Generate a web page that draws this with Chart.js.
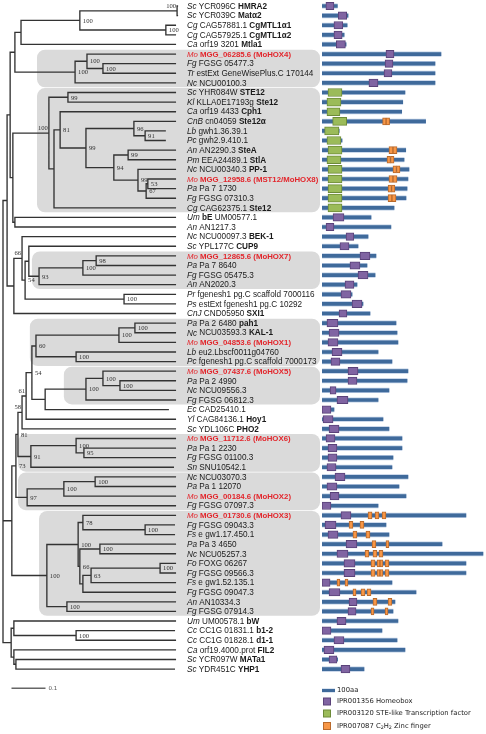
<!DOCTYPE html>
<html>
<head>
<meta charset="utf-8">
<script src="https://cdn.jsdelivr.net/npm/chart.js@4.4.1/dist/chart.umd.min.js"></script>
<style>
  html, body { margin: 0; padding: 0; background: #fff; }
  #wrap { position: relative; width: 486px; height: 734px; overflow: hidden; }
  #treeChart { position: absolute; left: 0; top: 0; }
  #domainChart { position: absolute; left: 322px; top: 0; }
</style>
</head>
<body>
<div id="wrap">
  <canvas id="treeChart" width="486" height="734"></canvas>
  <canvas id="domainChart" width="164" height="734"></canvas>
</div>
<script>
// leaf labels, top to bottom (*italic*, **bold**)
const leafLabels = [
  '*Sc* YCR096C **HMRA2**', '*Sc* YCR039C **Matα2**', '*Cg* CAG57881.1 **CgMTL1α1**',
  '*Cg* CAG57925.1 **CgMTL1α2**', '*Ca* orf19 3201 **Mtla1**',
  '*Mo* **MGG_06285.6 (MoHOX4)**', '*Fg* FGSG 05477.3', '*Tr* estExt GeneWisePlus.C 170144',
  '*Nc* NCU00100.3',
  '*Sc* YHR084W **STE12**', '*Kl* KLLA0E17193g **Ste12**', '*Ca* orf19 4433 **Cph1**',
  '*CnB* cn04059 **Ste12α**', '*Lb* gwh1.36.39.1', '*Pc* gwh2.9.410.1', '*An* AN2290.3 **SteA**',
  '*Pm* EEA24489.1 **StlA**', '*Nc* NCU00340.3 **PP-1**', '*Mo* **MGG_12958.6 (MST12/MoHOX8)**',
  '*Pa* Pa 7 1730', '*Fg* FGSG 07310.3', '*Cg* CAG62375.1 **Ste12**',
  '*Um* **bE** UM00577.1', '*An* AN1217.3', '*Nc* NCU00097.3 **BEK-1**', '*Sc* YPL177C **CUP9**',
  '*Mo* **MGG_12865.6 (MoHOX7)**', '*Pa* Pa 7 8640', '*Fg* FGSG 05475.3', '*An* AN2020.3',
  '*Pr* fgenesh1 pg.C scaffold 7000116', '*Ps* estExt fgenesh1 pg.C 10292', '*CnJ* CND05950 **SXI1**',
  '*Pa* Pa 2 6480 **pah1**', '*Nc* NCU03593.3 **KAL-1**', '*Mo* **MGG_04853.6 (MoHOX1)**',
  '*Lb* eu2.Lbscf0011g04760', '*Pc* fgenesh1 pg.C scaffold 7000173',
  '*Mo* **MGG_07437.6 (MoHOX5)**', '*Pa* Pa 2 4990', '*Nc* NCU09556.3', '*Fg* FGSG 06812.3',
  '*Ec* CAD25410.1', '*Yl* CAG84136.1 **Hoy1**', '*Sc* YDL106C **PHO2**',
  '*Mo* **MGG_11712.6 (MoHOX6)**', '*Pa* Pa 1 2230', '*Fg* FGSG 01100.3', '*Sn* SNU10542.1',
  '*Nc* NCU03070.3', '*Pa* Pa 1 12070', '*Mo* **MGG_00184.6 (MoHOX2)**', '*Fg* FGSG 07097.3',
  '*Mo* **MGG_01730.6 (MoHOX3)**', '*Fg* FGSG 09043.3', '*Fs* e gw1.17.450.1', '*Pa* Pa 3 4650',
  '*Nc* NCU05257.3', '*Fo* FOXG 06267', '*Fg* FGSG 09566.3', '*Fs* e gw1.52.135.1',
  '*Fg* FGSG 09047.3', '*An* AN10334.3', '*Fg* FGSG 07914.3',
  '*Um* UM00578.1 **bW**', '*Cc* CC1G 01831.1 **b1-2**', '*Cc* CC1G 01828.1 **d1-1**',
  '*Ca* orf19.4000.prot **FIL2**', '*Sc* YCR097W **MATa1**', '*Sc* YDR451C **YHP1**'
];
const magnaporthRows = [5, 18, 26, 35, 38, 45, 51, 53];

// tip depths (substitutions/site from the root)
const leafDepth = [
  0.515, 0.515, 0.509, 0.509, 0.509, 0.509, 0.509, 0.509, 0.509, 0.509,
  0.509, 0.509, 0.509, 0.479, 0.479, 0.509, 0.509, 0.509, 0.509, 0.509,
  0.509, 0.509, 0.509, 0.509, 0.509, 0.509, 0.509, 0.509, 0.509, 0.509,
  0.509, 0.509, 0.509, 0.509, 0.509, 0.509, 0.509, 0.509, 0.509, 0.509,
  0.509, 0.509, 0.488, 0.509, 0.509, 0.509, 0.509, 0.509, 0.503, 0.509,
  0.509, 0.509, 0.509, 0.509, 0.506, 0.506, 0.509, 0.509, 0.509, 0.509,
  0.509, 0.509, 0.509, 0.509, 0.509, 0.506, 0.509, 0.509, 0.509, 0.506
];

// internal nodes, children listed before parents
const cladeNames = ['A','B','C','D','F','E','G','H','I','J','K','L','N1','N2','N3','O','P','Q','S','R',
  'U','T','V','a','b','c','e','d','f','g','h','W','i','j','k','l','m','n','o','p','q','r','s',
  't','u','v','w','x1','x2','x3','y1','aa','bb','cc','dd','ee','ff','gg','hh','ii','jj','z',
  'kk','ll','mm','nn','oo','root'];
const cladeKids = [
  [0,1],[2,3],['A','B'],['C',4],[6,7],[5,'F'],['E',8],['D','G'],[9,10],[13,14],[12,'J'],[15,16],
  [18,19],['N1',20],[17,'N2'],['L','N3'],['K','O'],[11,'P'],['Q',21],['I','S'],
  [22,23],['R','U'],['H','T'],[26,27],['a',28],['b',29],[25,'c'],[30,31],['e','d'],[24,'f'],['g',32],
  ['V','h'],[33,34],['i',35],[36,37],['j','k'],[39,40],[38,'m'],['n',41],['o',42],['l','p'],['q',43],
  ['r',44],[46,47],[45,'t'],['u',48],['s','v'],[49,50],['x1',51],['x2',52],['w','x3'],
  [54,55],[53,'aa'],[56,57],[58,59],['dd',60],['ee',61],['cc','ff'],['bb','gg'],[62,63],['hh','ii'],
  ['y1','jj'],[65,66],[64,'kk'],[68,69],[67,'mm'],['ll','nn'],['W','z','oo']
];
const cladeDepth = [
  0.512,0.479,0.226,0.053,0.294,0.247,0.212,0.035,0.191,0.418,0.385,0.368,
  0.426,0.421,0.397,0.326,0.244,0.168,0.150,0.135,
  0.035,0.029,0.021,0.274,0.235,0.106,0.076,0.356,0.065,0.056,0.032,
  0.012,0.388,0.341,0.215,0.097,0.344,0.294,0.244,0.124,0.085,0.068,
  0.056,0.238,0.215,0.082,0.044,0.271,0.179,0.071,0.038,
  0.418,0.235,0.285,0.462,0.259,0.235,0.226,0.221,0.188,0.129,
  0.026,0.215,0.032,0.038,0.032,0.024,0
];
const cladeSupport = [
  100,100,100,null,100,100,100,null,99,91,96,99,
  53,67,99,94,99,81,null,100,
  null,null,null,98,100,93,null,100,54,66,null,
  null,100,100,100,60,100,100,100,null,54,61,
  58,95,100,91,81,100,100,97,73,
  100,78,100,100,63,null,66,100,100,100,
  null,100,null,null,null,null,null
];
const supportOnLeft = ['A', 'R', 'g', 'r', 's'];

// shaded groups: first row, last row, left edge (depth)
const shadedGroups = [[5, 8, 0.100], [9, 21, 0.100], [26, 29, 0.085], [33, 37, 0.079],
  [38, 41, 0.179], [45, 48, 0.044], [49, 52, 0.044], [53, 63, 0.106]];
const scaleBarStart = 0.025;
const scaleBarLength = 0.1;

// protein lengths (aa) and domains [row, start, end]
const proteinLen = [
  118, 200, 193, 170, 185, 915, 869, 869, 869,
  638, 621, 613, 797, 132, 154, 644, 631, 669, 661, 654, 646, 554,
  377, 530, 354, 277, 415, 346, 408, 269, 231, 315, 369,
  569, 577, 584, 431, 538, 661, 654, 515, 431, 92, 469, 515,
  615, 615, 546, 538, 661, 592, 646, 431,
  1107, 492, 515, 923, 1238, 1107, 1107, 538, 723, 561, 546,
  584, 461, 577, 638, 120, 323
];
const homeobox = [
  [0,30,92],[1,125,190],[2,92,160],[3,92,155],[4,110,180],[5,492,554],[6,485,546],[7,477,538],
  [8,361,431],[22,85,169],[23,31,92],[24,185,245],[25,138,208],[26,292,369],[27,215,292],
  [28,277,354],[29,177,246],[30,146,223],[31,231,308],[32,131,192],[33,38,123],[34,54,131],
  [35,46,123],[36,77,154],[37,69,138],[38,200,277],[39,200,269],[40,62,108],[41,115,200],
  [42,0,69],[43,8,85],[44,54,131],[45,31,100],[46,46,115],[47,46,115],[48,38,108],[49,100,177],
  [50,38,115],[51,62,131],[52,0,69],[53,146,223],[54,23,108],[55,46,123],[56,185,269],
  [57,115,200],[58,169,254],[59,169,254],[60,0,62],[61,54,138],[62,208,269],[63,200,262],
  [64,115,185],[65,0,69],[66,92,169],[67,15,92],[68,54,115],[69,146,215]
];
const steDomain = [
  [9,46,154],[10,38,146],[11,38,138],[12,82,190],[13,20,130],[14,38,146],[15,46,154],
  [16,38,146],[17,46,154],[18,46,154],[19,46,154],[20,46,154],[21,46,154]
];
const zincFinger = [
  [12,466,493],[12,493,520],[15,515,546],[15,546,577],[16,500,527],[16,527,554],
  [17,546,573],[17,573,600],[18,515,546],[18,546,577],[19,508,535],[19,535,561],
  [20,508,538],[20,538,569],
  [53,354,385],[53,408,438],[53,462,492],[54,208,238],[54,292,323],[55,238,269],[55,338,369],
  [56,385,415],[56,492,515],[57,331,361],[57,392,423],[57,438,469],
  [58,377,408],[58,423,446],[58,446,469],[58,485,515],[59,377,408],[59,423,446],[59,446,469],[59,485,515],
  [60,115,138],[60,177,200],[61,238,262],[61,300,331],[61,346,377],[62,392,423],[62,508,538],
  [63,377,400],[63,485,508]
];

// layout
const ROW0 = 6, ROW_H = 9.61, X0 = 3, PX_PER_UNIT = 340;
const LABEL_X = 187, SHADE_RIGHT = 320, PX_PER_100AA = 13;
const FONT = '"Liberation Sans", Arial, sans-serif';

// node positions
const xOf = {}, yOf = {};
const kidX = k => typeof k === 'number' ? leafDepth[k] : xOf[k];
const kidY = k => typeof k === 'number' ? k : yOf[k];
cladeNames.forEach((name, i) => {
  const kids = cladeKids[i];
  xOf[name] = cladeDepth[i];
  yOf[name] = (kidY(kids[0]) + kidY(kids[kids.length - 1])) / 2;
});

const treePoints = [];
cladeNames.forEach((name, i) => {
  const kids = cladeKids[i], x = xOf[name];
  const first = kids[0], last = kids[kids.length - 1];
  treePoints.push({x: kidX(first), y: kidY(first)}, {x: x, y: kidY(first)},
    {x: x, y: kidY(last)}, {x: kidX(last), y: kidY(last)}, {x: null, y: null});
  kids.slice(1, -1).forEach(k => {
    treePoints.push({x: x, y: kidY(k)}, {x: kidX(k), y: kidY(k)}, {x: null, y: null});
  });
});

function drawRich(ctx, text, x, y, red) {
  const parts = text.split(/(\*\*.+?\*\*|\*.+?\*)/).filter(Boolean);
  const size = red ? '7.8px ' : '8.2px ';
  parts.forEach(p => {
    let style = '', t = p;
    if (p.startsWith('**')) { style = 'bold '; t = p.slice(2, -2); }
    else if (p.startsWith('*')) { style = 'italic '; t = p.slice(1, -1); }
    ctx.font = style + size + FONT;
    ctx.fillStyle = red ? '#e3262c' : '#1a1a1a';
    ctx.fillText(t, x, y);
    x += ctx.measureText(t).width;
  });
}

const treeDecor = {
  id: 'treeDecor',
  beforeDatasetsDraw(chart) {
    const {ctx, scales: {x, y}} = chart;
    ctx.save();
    ctx.fillStyle = '#dadada';
    shadedGroups.forEach(([a, b, from]) => {
      const left = x.getPixelForValue(from);
      const top = y.getPixelForValue(a - 0.46);
      const bottom = y.getPixelForValue(b + 0.46);
      ctx.beginPath();
      ctx.roundRect(left, top, SHADE_RIGHT - left, bottom - top, 8);
      ctx.fill();
    });
    ctx.restore();
  },
  afterDatasetsDraw(chart) {
    const {ctx, scales: {x, y}} = chart;
    ctx.save();
    // bootstrap values
    ctx.font = '6.6px "Liberation Serif", "Times New Roman", serif';
    ctx.fillStyle = '#333';
    ctx.textBaseline = 'middle';
    cladeNames.forEach((name, i) => {
      const s = cladeSupport[i];
      if (s == null) return;
      const px = x.getPixelForValue(xOf[name]);
      const py = y.getPixelForValue(yOf[name]);
      if (supportOnLeft.includes(name)) {
        ctx.textAlign = 'right';
        ctx.fillText(String(s), px - 1, py - 5);
      } else {
        ctx.textAlign = 'left';
        ctx.fillText(String(s), px + 3, py + 0.5);
      }
    });
    // leaf labels
    ctx.textAlign = 'left';
    leafLabels.forEach((lab, i) => {
      drawRich(ctx, lab, LABEL_X, y.getPixelForValue(i) + 0.5, magnaporthRows.includes(i));
    });
    // scale bar text
    ctx.font = '5.5px "DejaVu Sans", sans-serif';
    ctx.fillStyle = '#555';
    ctx.fillText(String(scaleBarLength), x.getPixelForValue(scaleBarStart + scaleBarLength) + 3,
      y.getPixelForValue(leafLabels.length + 1));
    ctx.restore();
  }
};

new Chart(document.getElementById('treeChart'), {
  type: 'scatter',
  data: {
    datasets: [
      { data: treePoints, showLine: true, spanGaps: false, borderColor: '#333', borderWidth: 1.35,
        pointRadius: 0, tension: 0 },
      { data: [{x: scaleBarStart, y: leafLabels.length + 1},
               {x: scaleBarStart + scaleBarLength, y: leafLabels.length + 1}],
        showLine: true, borderColor: '#666', borderWidth: 1.6, pointRadius: 0 }
    ]
  },
  options: {
    responsive: false, animation: false, events: [],
    layout: { padding: 0, autoPadding: false },
    plugins: { legend: { display: false }, tooltip: { enabled: false } },
    scales: {
      x: { type: 'linear', display: false, min: -X0 / PX_PER_UNIT, max: (486 - X0) / PX_PER_UNIT },
      y: { type: 'linear', display: false, reverse: true, min: -ROW0 / ROW_H, max: (734 - ROW0) / ROW_H }
    }
  },
  plugins: [treeDecor]
});

// domain panel
const rowKeys = leafLabels.map((_, i) => String(i));
const toBars = list => list.map(d => ({ y: String(d[0]), x: [d[1], d[2]] }));
const colors = {
  hb: ['#8064a2', '#5a4279'], ste: ['#9bbb59', '#6c8a38'], zf: ['#f79646', '#b8692b'],
  prot: '#3f6a9b', halo: '#bccde4'
};

const domainLegend = {
  id: 'domainLegend',
  afterDraw(chart) {
    const {ctx, scales: {x}} = chart;
    const x0 = x.getPixelForValue(0);
    ctx.save();
    ctx.font = '6.8px "DejaVu Sans", sans-serif';
    ctx.textBaseline = 'middle';
    ctx.fillStyle = colors.halo;
    ctx.fillRect(x0, 688.5, x.getPixelForValue(100) - x0, 4);
    ctx.fillStyle = colors.prot;
    ctx.fillRect(x0, 689, x.getPixelForValue(100) - x0, 3);
    ctx.fillStyle = '#222';
    ctx.fillText('100aa', 15, 690.5);
    const items = [['IPR001356 Homeobox', colors.hb, 701.5], ['IPR003120 STE-like Transcription factor', colors.ste, 713.5],
      ['', colors.zf, 726]];
    items.forEach(([t, c, yy]) => {
      ctx.fillStyle = c[1];
      ctx.fillRect(1, yy - 4, 8, 8);
      ctx.fillStyle = c[0];
      ctx.fillRect(2, yy - 3, 6, 6);
      ctx.fillStyle = '#222';
      if (t) ctx.fillText(t, 15, yy);
    });
    // C2H2 with subscripts
    let tx = 15;
    const yz = 726;
    [['IPR007087 C', 0], ['2', 1], ['H', 0], ['2', 1], [' Zinc finger', 0]].forEach(([t, sub]) => {
      ctx.font = (sub ? '4.8px' : '6.8px') + ' "DejaVu Sans", sans-serif';
      ctx.fillText(t, tx, sub ? yz + 2 : yz);
      tx += ctx.measureText(t).width;
    });
    ctx.restore();
  }
};

new Chart(document.getElementById('domainChart'), {
  type: 'bar',
  data: {
    labels: rowKeys,
    datasets: [
      { label: 'IPR003120', data: toBars(steDomain), backgroundColor: colors.ste[0], borderColor: colors.ste[1],
        borderWidth: 1, barThickness: 8, order: 1 },
      { label: 'IPR001356', data: toBars(homeobox), backgroundColor: colors.hb[0], borderColor: colors.hb[1],
        borderWidth: 1, barThickness: 7.5, order: 1 },
      { label: 'IPR007087', data: toBars(zincFinger), backgroundColor: colors.zf[0], borderColor: colors.zf[1],
        borderWidth: 1, barThickness: 7, order: 1 },
      { label: 'protein', data: proteinLen.map((l, i) => ({ y: String(i), x: [0, l] })),
        backgroundColor: colors.prot, borderWidth: 0, barThickness: 3, order: 2 },
      { label: 'halo', data: proteinLen.map((l, i) => ({ y: String(i), x: [0, l] })),
        backgroundColor: colors.halo, borderWidth: 0, barThickness: 4.5, order: 3 }
    ]
  },
  options: {
    indexAxis: 'y', responsive: false, animation: false, events: [],
    layout: { padding: { top: ROW0 - ROW_H / 2, bottom: 734 - (ROW0 - ROW_H / 2) - ROW_H * leafLabels.length, left: 0, right: 0 }, autoPadding: false },
    datasets: { bar: { grouped: false, borderSkipped: false } },
    plugins: { legend: { display: false }, tooltip: { enabled: false } },
    scales: {
      x: { type: 'linear', display: false, min: 0, max: 164 * 100 / PX_PER_100AA },
      y: { type: 'category', display: false, offset: true }
    }
  },
  plugins: [domainLegend]
});
</script>
</body>
</html>
